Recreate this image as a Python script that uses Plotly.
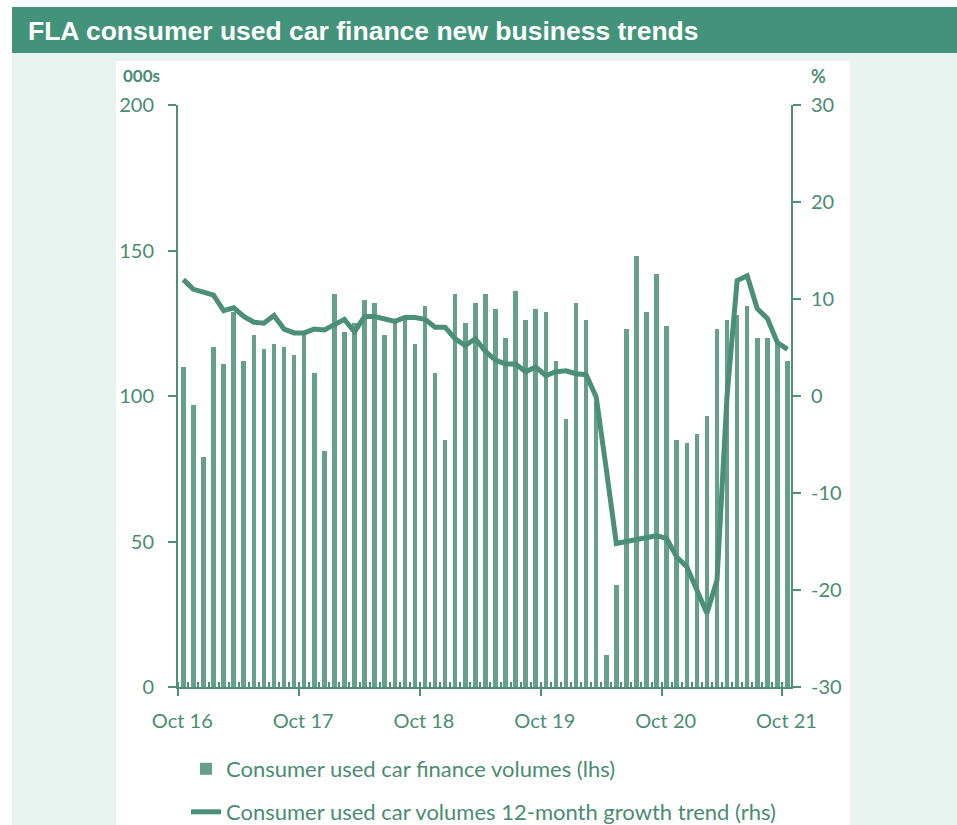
import plotly.graph_objects as go
import pandas as pd

# ---------------- data ----------------
months = pd.date_range("2016-10-01", "2021-10-01", freq="MS").strftime("%b %y").tolist()

volumes_000s = [110, 97, 79, 117, 111, 129, 112, 121, 116, 118, 117, 114,
                121, 108, 81, 135, 122, 125, 133, 132, 121, 125, 126, 118,
                131, 108, 85, 135, 125, 132, 135, 130, 120, 136, 126, 130,
                129, 112, 92, 132, 126, 98, 11, 35, 123, 148, 129, 142,
                124, 85, 84, 87, 93, 123, 126, 128, 131, 120, 120, 118,
                112]

growth_pct = [12.0, 11.0, 10.7, 10.4, 8.8, 9.1, 8.2, 7.6, 7.5, 8.3, 6.9, 6.5,
              6.5, 6.9, 6.8, 7.3, 7.9, 6.6, 8.2, 8.2, 8.0, 7.7, 8.1, 8.1,
              7.9, 7.1, 7.1, 5.9, 5.2, 5.9, 4.6, 3.7, 3.3, 3.3, 2.5, 3.0,
              2.1, 2.5, 2.6, 2.3, 2.2, -0.1, -7.5, -15.2, -15.0, -14.8, -14.6, -14.4,
              -14.7, -16.6, -17.6, -20.0, -22.4, -19.0, 0.0, 11.9, 12.4, 9.0, 8.0, 5.5,
              4.8]

x_tick_labels = ["Oct 16", "Oct 17", "Oct 18", "Oct 19", "Oct 20", "Oct 21"]
left_ticks = [0, 50, 100, 150, 200]
right_ticks = [-30, -20, -10, 0, 10, 20, 30]
right_tick_text = ["-30", "-20", "-10", "0", "10", "20", "30"]

title_text = "FLA consumer used car finance new business trends"
bar_name = "Consumer used car finance volumes (lhs)"
line_name = "Consumer used car volumes 12-month growth trend (rhs)"

# ---------------- styling / layout helpers ----------------
W, H = 957, 825
L, R, T, B = 178, 791, 105, 687


def px(x):
    return (x - L) / (R - L)


def py(y):
    return (B - y) / (B - T)


GREEN_TXT = "#4a8c72"
AXIS_C = "#4f8f77"
BAR_C = "#66a08b"
LINE_C = "#4b8f76"
BANNER = "#42937a"
MINT = "#e8f3ef"
FONT = "Lato"

pos = list(range(len(months)))
x_tick_pos = [pos[i] - 0.5 for i in range(0, len(months), 12)]

fig = go.Figure()
fig.add_trace(go.Bar(
    x=pos, y=volumes_000s, name=bar_name, width=0.45,
    marker=dict(color=BAR_C, line=dict(width=0)),
    customdata=months, hovertemplate="%{customdata}: %{y}k<extra></extra>",
    legend="legend",
))
fig.add_trace(go.Scatter(
    x=pos, y=growth_pct, name=line_name, yaxis="y2", mode="lines",
    line=dict(color=LINE_C, width=5),
    customdata=months, hovertemplate="%{customdata}: %{y}%<extra></extra>",
    legend="legend2",
))

shapes = [
    dict(type="rect", xref="paper", yref="paper", layer="below",
         x0=px(12), x1=px(W), y0=py(H), y1=py(53), fillcolor=MINT, line=dict(width=0)),
    dict(type="rect", xref="paper", yref="paper", layer="below",
         x0=px(116), x1=px(850), y0=py(H), y1=py(61), fillcolor="white", line=dict(width=0)),
    dict(type="rect", xref="paper", yref="paper", layer="below",
         x0=px(12), x1=px(W), y0=py(53), y1=py(7), fillcolor=BANNER, line=dict(width=0)),
]

annotations = [
    dict(text="000s", xref="paper", yref="paper", x=px(121), y=py(76),
         xanchor="left", yanchor="middle", showarrow=False,
         font=dict(family=FONT, size=17, color=GREEN_TXT, weight="bold")),
    dict(text="%", xref="paper", yref="paper", x=px(818), y=py(76),
         xanchor="center", yanchor="middle", showarrow=False,
         font=dict(family=FONT, size=18, color=GREEN_TXT, weight="bold")),
]

fig.update_layout(
    width=W, height=H,
    margin=dict(l=L, r=W - R, t=T, b=H - B, pad=0, autoexpand=False),
    paper_bgcolor="white", plot_bgcolor="rgba(0,0,0,0)",
    showlegend=True,
    title=dict(text=title_text, xref="container", yref="container",
               x=28 / W, xanchor="left", y=1 - 31 / H, yanchor="middle",
               font=dict(family="Liberation Sans, Arial", size=26.5, color="white", weight="bold")),
    shapes=shapes, annotations=annotations,
    bargap=0,
    xaxis=dict(
        range=[-0.53, 60.35], showgrid=False, zeroline=False,
        showline=True, linecolor=AXIS_C, linewidth=2,
        tickmode="array", tickvals=x_tick_pos, ticktext=x_tick_labels,
        ticks="outside", ticklen=7, tickwidth=2, tickcolor=AXIS_C,
        ticklabelstandoff=8, ticklabelshift=4,
        tickfont=dict(family=FONT, size=20, color=GREEN_TXT),
        minor=dict(tickmode="linear", tick0=-0.5, dtick=1, ticks="inside",
                   ticklen=5, tickwidth=1.5, tickcolor=AXIS_C, showgrid=False),
        fixedrange=True,
    ),
    yaxis=dict(
        range=[0, 200], showgrid=False, zeroline=False,
        showline=True, linecolor=AXIS_C, linewidth=2,
        tickmode="array", tickvals=left_ticks,
        ticks="outside", ticklen=8, tickwidth=2, tickcolor=AXIS_C,
        ticklabelstandoff=10,
        tickfont=dict(family=FONT, size=20, color=GREEN_TXT),
    ),
    yaxis2=dict(
        range=[-30, 30], overlaying="y", side="right", anchor="x",
        showgrid=False, zeroline=False,
        showline=True, linecolor=AXIS_C, linewidth=2,
        tickmode="array", tickvals=right_ticks, ticktext=right_tick_text,
        ticks="outside", ticklen=8, tickwidth=2, tickcolor=AXIS_C,
        ticklabelstandoff=6,
        tickfont=dict(family=FONT, size=20, color=GREEN_TXT),
    ),
    legend=dict(x=px(186), xanchor="left", y=py(769), yanchor="middle",
                bgcolor="rgba(0,0,0,0)", font=dict(family=FONT, size=22, color=GREEN_TXT),
                itemwidth=30),
    legend2=dict(x=px(186), xanchor="left", y=py(812), yanchor="middle",
                 bgcolor="rgba(0,0,0,0)", font=dict(family=FONT, size=22, color=GREEN_TXT),
                 itemwidth=30),
)

fig.write_html("out.html")
